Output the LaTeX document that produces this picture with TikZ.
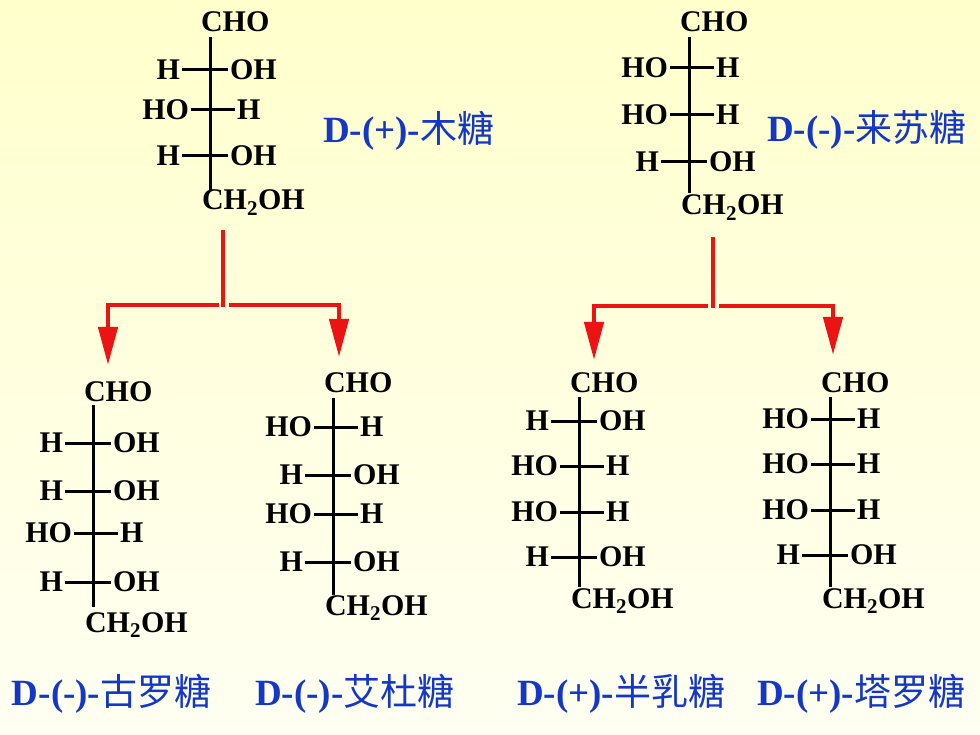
\documentclass[tikz,border=0pt]{standalone}
\usepackage{fontspec}
\setmainfont{Liberation Serif}
\newfontfamily\cjk{Noto Sans CJK SC}
\usetikzlibrary{arrows.meta}
\definecolor{bgtop}{RGB}{255,255,204}
\definecolor{bgbot}{RGB}{255,255,242}
\definecolor{lblblue}{RGB}{20,55,200}
\definecolor{arrred}{RGB}{235,20,20}
\tikzset{
  chem/.style={inner sep=0pt,outer sep=0pt,font=\fontsize{30}{32}\selectfont\bfseries},
  bond/.style={line width=3pt,black,line cap=butt},
  hbond/.style={bond,shorten <=2pt,shorten >=2pt},
  sugarlbl/.style={inner sep=0pt,outer sep=0pt,text=lblblue,font=\fontsize{37}{40}\selectfont,anchor=base west},
  redline/.style={line width=4.5pt,arrred,line cap=butt,line join=miter},
  redarr/.style={redline,-{Triangle[width=19pt,length=38pt]}}
}
\newcommand\hoh[3]{%
  \node[chem,anchor=east] (#1l) at ({#2-30},#3) {H};
  \node[chem,anchor=west] (#1r) at ({#2+20},#3) {OH};
  \draw[hbond] (#1l.east) -- (#1r.west);}
\newcommand\ohh[3]{%
  \node[chem,anchor=east] (#1l) at ({#2-21},#3) {HO};
  \node[chem,anchor=west] (#1r) at ({#2+27},#3) {H};
  \draw[hbond] (#1l.east) -- (#1r.west);}
\newcommand\fischer[6]{% name, x0, CHO base, line top, line bottom, CH2OH base
  \node[chem,anchor=base west] (#1cho) at ({#2-9},#3) {CHO};
  \node[chem,anchor=base west] (#1ch) at ({#2-8},#6) {CH\textsubscript{2}OH};
  \coordinate (#1t) at (#2,#4);
  \coordinate (#1b) at (#2,#5);
  \draw[bond] (#1t) -- (#1b);}
\begin{document}
\begin{tikzpicture}[x=1pt,y=-1pt]
\shade[top color=bgtop,bottom color=bgbot] (0pt,0pt) rectangle (980pt,-735pt);
\useasboundingbox (0pt,0pt) rectangle (980pt,-735pt);

% top left: D-(+)-xylose
\fischer{a}{210}{32}{37}{190}{210}
\hoh{aa}{210}{70}
\ohh{ab}{210}{110}
\hoh{ac}{210}{156}
\node[sugarlbl] (la) at (323,143) {\textbf{D-(+)-}{\cjk 木糖}};

% top right: D-(-)-lyxose
\fischer{b}{689}{32}{37}{193}{215}
\ohh{ba}{689}{68}
\ohh{bb}{689}{115}
\hoh{bc}{689}{162}
\node[sugarlbl] (lb) at (767,142) {\textbf{D-(-)-}{\cjk 来苏糖}};

% bottom 1: D-(-)-gulose
\fischer{c}{93}{401}{405}{607}{632}
\hoh{ca}{93}{443}
\hoh{cb}{93}{491}
\ohh{cc}{93}{533}
\hoh{cd}{93}{582}
\node[sugarlbl] (lc) at (12,705) {\textbf{D-(-)-}{\cjk 古罗糖}};

% bottom 2: D-(-)-idose
\fischer{d}{333}{392}{398}{595}{615}
\ohh{da}{333}{427}
\hoh{db}{333}{475}
\ohh{dc}{333}{514}
\hoh{dd}{333}{562}
\node[sugarlbl] (ld) at (255,705) {\textbf{D-(-)-}{\cjk 艾杜糖}};

% bottom 3: D-(+)-galactose
\fischer{e}{579}{392}{397}{587}{608}
\hoh{ea}{579}{421}
\ohh{eb}{579}{466}
\ohh{ec}{579}{512}
\hoh{ed}{579}{557}
\node[sugarlbl] (le) at (517,705) {\textbf{D-(+)-}{\cjk 半乳糖}};

% bottom 4: D-(+)-talose
\fischer{f}{830}{392}{397}{587}{608}
\ohh{fa}{830}{419}
\ohh{fb}{830}{464}
\ohh{fc}{830}{510}
\hoh{fd}{830}{555}
\node[sugarlbl] (lf) at (757,705) {\textbf{D-(+)-}{\cjk 塔罗糖}};

% left branching arrows
\coordinate (s1t) at (223,230);
\coordinate (s1b) at (223,307.25);
\coordinate (j1l) at (218.5,305);
\coordinate (c1l) at (108,305);
\coordinate (t1l) at (108,365);
\coordinate (j1r) at (228.5,305);
\coordinate (c1r) at (339,305);
\coordinate (t1r) at (339,357);
\draw[redline] (s1t) -- (s1b);
\draw[redarr] (j1l) -- (c1l) -- (t1l);
\draw[redarr] (j1r) -- (c1r) -- (t1r);

% right branching arrows
\coordinate (s2t) at (713,237);
\coordinate (s2b) at (713,308.25);
\coordinate (j2l) at (708,306);
\coordinate (c2l) at (594,306);
\coordinate (t2l) at (594,360);
\coordinate (j2r) at (718.5,306);
\coordinate (c2r) at (833,306);
\coordinate (t2r) at (833,355);
\draw[redline] (s2t) -- (s2b);
\draw[redarr] (j2l) -- (c2l) -- (t2l);
\draw[redarr] (j2r) -- (c2r) -- (t2r);
\end{tikzpicture}
\end{document}
